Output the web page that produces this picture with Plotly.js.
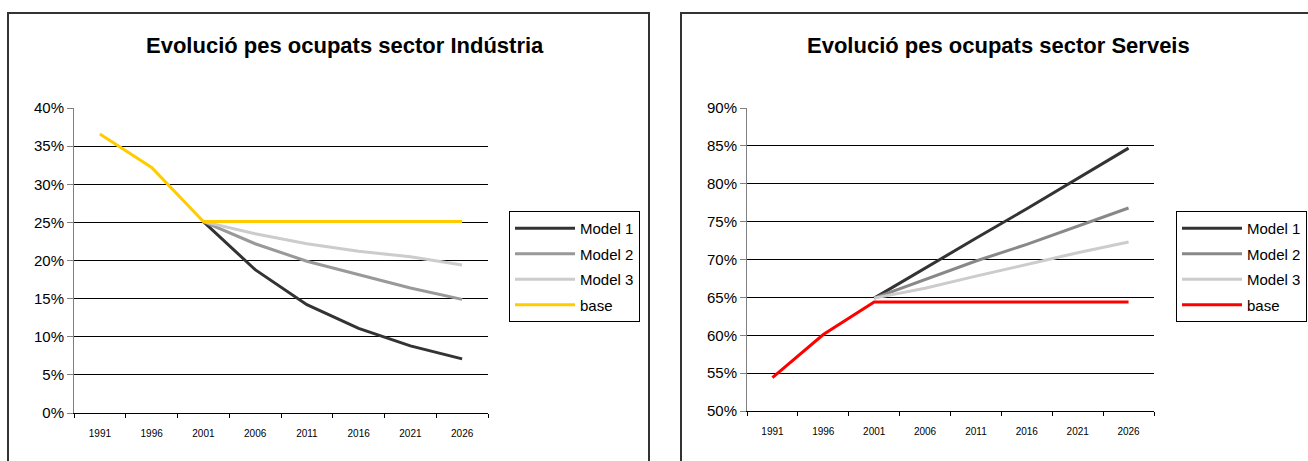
<!DOCTYPE html>
<html>
<head>
<meta charset="utf-8">
<script src="https://cdn.plot.ly/plotly-3.0.1.min.js"></script>
<style>
  html, body { margin: 0; padding: 0; background: #fff; }
  #chart { width: 1308px; height: 461px; }
</style>
</head>
<body>
<div id="chart"></div>
<script>
// ---- Data ----
const years = ['1991', '1996', '2001', '2006', '2011', '2016', '2021', '2026'];
const seriesNames = ['Model 1', 'Model 2', 'Model 3', 'base'];

// Indústria (% of employed)
const indModel1 = [null, null, 25.1, 18.8, 14.2, 11.1, 8.8, 7.1];
const indModel2 = [null, null, 25.1, 22.2, 19.9, 18.1, 16.4, 14.9];
const indModel3 = [null, null, 25.1, 23.5, 22.2, 21.2, 20.5, 19.4];
const indBase   = [36.6, 32.2, 25.1, 25.1, 25.1, 25.1, 25.1, 25.1];

// Serveis (% of employed)
const serModel1 = [null, null, 64.9, 68.9, 72.8, 76.7, 80.7, 84.7];
const serModel2 = [null, null, 64.9, 67.4, 69.8, 72.0, 74.4, 76.8];
const serModel3 = [null, null, 64.9, 66.2, 67.8, 69.4, 70.9, 72.3];
const serBase   = [54.4, 60.1, 64.4, 64.4, 64.4, 64.4, 64.4, 64.4];

const titles = ['Evolució pes ocupats sector Indústria', 'Evolució pes ocupats sector Serveis'];

// ---- Styling ----
const W = 1308, H = 461;
const px = v => v / W;
const py = v => 1 - v / H;
const FONT = 'Arial, "Liberation Sans", sans-serif';

const leftColors = ['#333333', '#999999', '#cccccc', '#FFCC00'];
const rightColors = ['#333333', '#888888', '#cccccc', '#FF0000'];

function mk(vals, name, color, xa, ya, lg) {
  return {
    x: years, y: vals, name: name, type: 'scatter', mode: 'lines',
    line: { color: color, width: 3 },
    xaxis: xa, yaxis: ya, legend: lg, legendgroup: lg + name,
    connectgaps: false, hoverinfo: 'x+y+name'
  };
}

const leftVals = [indModel1, indModel2, indModel3, indBase];
const rightVals = [serModel1, serModel2, serModel3, serBase];
const data = [];
leftVals.forEach((v, i) => data.push(mk(v, seriesNames[i], leftColors[i], 'x', 'y', 'legend')));
rightVals.forEach((v, i) => data.push(mk(v, seriesNames[i], rightColors[i], 'x2', 'y2', 'legend2')));

function xAxis(domain, anchor) {
  return {
    domain: domain, anchor: anchor, type: 'category',
    range: [-0.5, years.length - 0.5], autorange: false,
    showgrid: false, zeroline: false,
    showline: true, linecolor: '#000', linewidth: 1,
    ticks: 'outside', tickson: 'boundaries', ticklen: 4, tickcolor: '#000', tickwidth: 1,
    tickfont: { family: FONT, size: 10, color: '#000' },
    ticklabelstandoff: 11,
    fixedrange: true
  };
}
function yAxis(domain, anchor, range) {
  return {
    domain: domain, anchor: anchor, range: range, autorange: false, dtick: 5, tick0: 0,
    ticksuffix: '%',
    showgrid: true, gridcolor: '#000', gridwidth: 1,
    zeroline: false,
    showline: true, linecolor: '#808080', linewidth: 1,
    ticks: 'outside', ticklen: 6, tickcolor: '#808080', tickwidth: 1,
    tickfont: { family: FONT, size: 15, color: '#000' },
    fixedrange: true
  };
}
function legendCfg(x) {
  return {
    x: x, y: py(211), xanchor: 'left', yanchor: 'top',
    xref: 'paper', yref: 'paper',
    bgcolor: '#fff', bordercolor: '#000', borderwidth: 1,
    font: { family: FONT, size: 15, color: '#000' },
    itemwidth: 60, tracegroupgap: 3, traceorder: 'grouped',
    itemclick: false, itemdoubleclick: false
  };
}

const layout = {
  width: W, height: H,
  margin: { l: 0, r: 0, t: 0, b: 0, pad: 0 },
  paper_bgcolor: '#fff', plot_bgcolor: 'rgba(0,0,0,0)',
  showlegend: true,
  xaxis: xAxis([px(74), px(488)], 'y'),
  yaxis: yAxis([py(413), py(108)], 'x', [0, 40]),
  xaxis2: xAxis([px(747), px(1154)], 'y2'),
  yaxis2: yAxis([py(411), py(108)], 'x2', [50, 90]),
  legend: legendCfg(px(509)),
  legend2: legendCfg(px(1176)),
  shapes: [
    { type: 'rect', xref: 'paper', yref: 'paper', x0: px(8), x1: px(649), y0: -0.2, y1: py(13),
      line: { color: '#333', width: 2 }, fillcolor: 'rgba(0,0,0,0)', layer: 'below' },
    { type: 'rect', xref: 'paper', yref: 'paper', x0: px(681), x1: 1.2, y0: -0.2, y1: py(13),
      line: { color: '#333', width: 2 }, fillcolor: 'rgba(0,0,0,0)', layer: 'below' }
  ],
  annotations: [
    { text: titles[0], xref: 'paper', yref: 'paper', x: px(345), y: py(45),
      xanchor: 'center', yanchor: 'middle', showarrow: false,
      font: { family: FONT, size: 22, color: '#000', weight: 'bold' } },
    { text: titles[1], xref: 'paper', yref: 'paper', x: px(998), y: py(45),
      xanchor: 'center', yanchor: 'middle', showarrow: false,
      font: { family: FONT, size: 22, color: '#000', weight: 'bold' } }
  ]
};

Plotly.newPlot('chart', data, layout, { staticPlot: true, displayModeBar: false });
</script>
</body>
</html>
